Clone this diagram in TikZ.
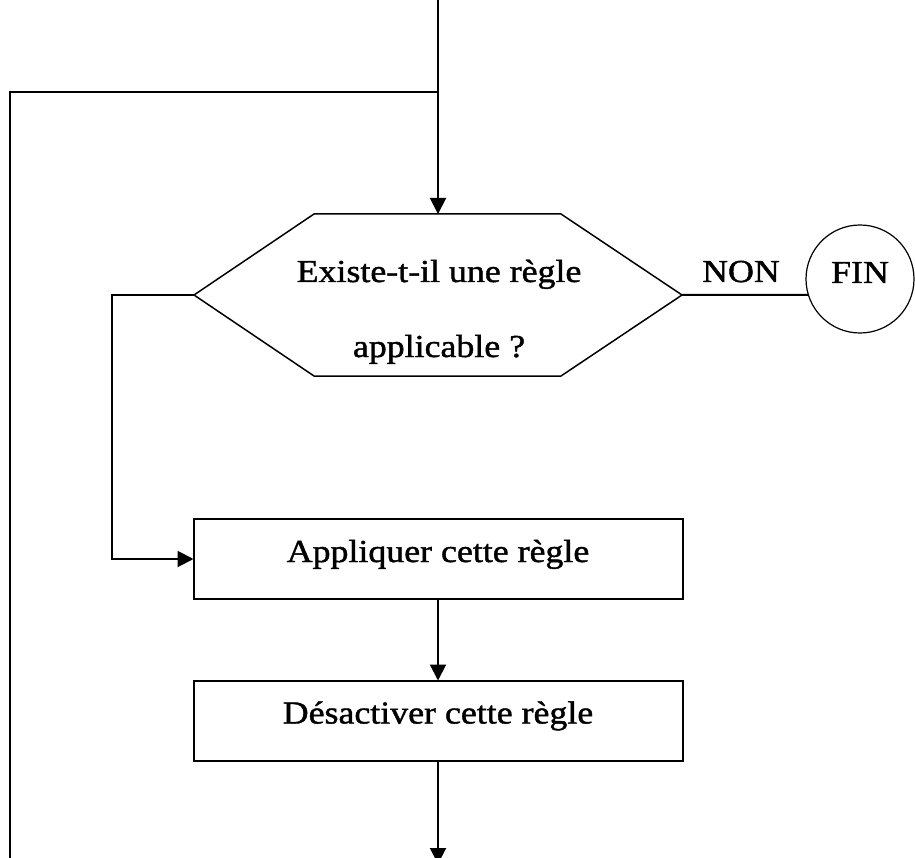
\documentclass[tikz,border=0pt]{standalone}
\usepackage{fontspec}
\setmainfont{Liberation Serif}[FakeStretch=1.12,FakeBold=1.3]
\usetikzlibrary{arrows.meta,calc}
\begin{document}
\begin{tikzpicture}[x=1pt,y=-1pt,
  line/.style={line width=2pt, draw=black},
  arr/.style={line, -{Triangle[width=16pt,length=16pt]}},
  txt/.style={font=\fontsize{32}{38}\selectfont, inner sep=0pt},
  stepbox/.style={draw, line width=2pt, minimum width=489pt, minimum height=80pt, inner sep=0pt, outer sep=0pt, txt, text height=22pt, text depth=16pt},
  hexnode/.style={minimum width=488pt, minimum height=162pt, inner sep=0pt, outer sep=0pt},
  endcircle/.style={draw, circle, line width=1.2pt, minimum size=108pt, inner sep=0pt, outer sep=0pt, txt, text height=22pt, text depth=14pt},
]
\useasboundingbox (0,0) rectangle (915,858);
\fill[white] (0,0) rectangle (915,858);

% decision hexagon
\node[hexnode] (q) at (438,295) {};
\draw[line width=1.5pt] (q.west) -- ($(q.north west)+(120,0)$) -- ($(q.north east)+(-121,0)$)
  -- (q.east) -- ($(q.south east)+(-121,0)$) -- ($(q.south west)+(120,0)$) -- cycle;
\node[txt, anchor=base] (q1) at (439,282) {Existe-t-il une règle};
\node[txt, anchor=base] (q2) at (439,357) {applicable ?};

% boxes
\node[stepbox] (b1) at (438,559) {Appliquer cette règle};
\node[stepbox] (b2) at (438,720.5) {Désactiver cette règle};

% end circle
\node[endcircle] (fin) at (860,279) {FIN};
\node[txt, anchor=base] (non) at (741,282) {NON};

% coordinates
\coordinate (top) at (438,0);
\coordinate (join) at (438,92);
\coordinate (lb) at (10,880);
\coordinate (bot) at (438,864);

% connectors
\draw[line] (lb) -- (lb |- join) -- (join);
\draw[arr] (top) -- (q.north);
\draw[arr] (q.west) -- ++(-82,0) |- (b1.west);
\draw[arr] (b1.south) -- (b2.north);
\draw[arr] (b2.south) -- (bot);
\draw[line] (q.east) -- (fin.197);
\end{tikzpicture}
\end{document}
